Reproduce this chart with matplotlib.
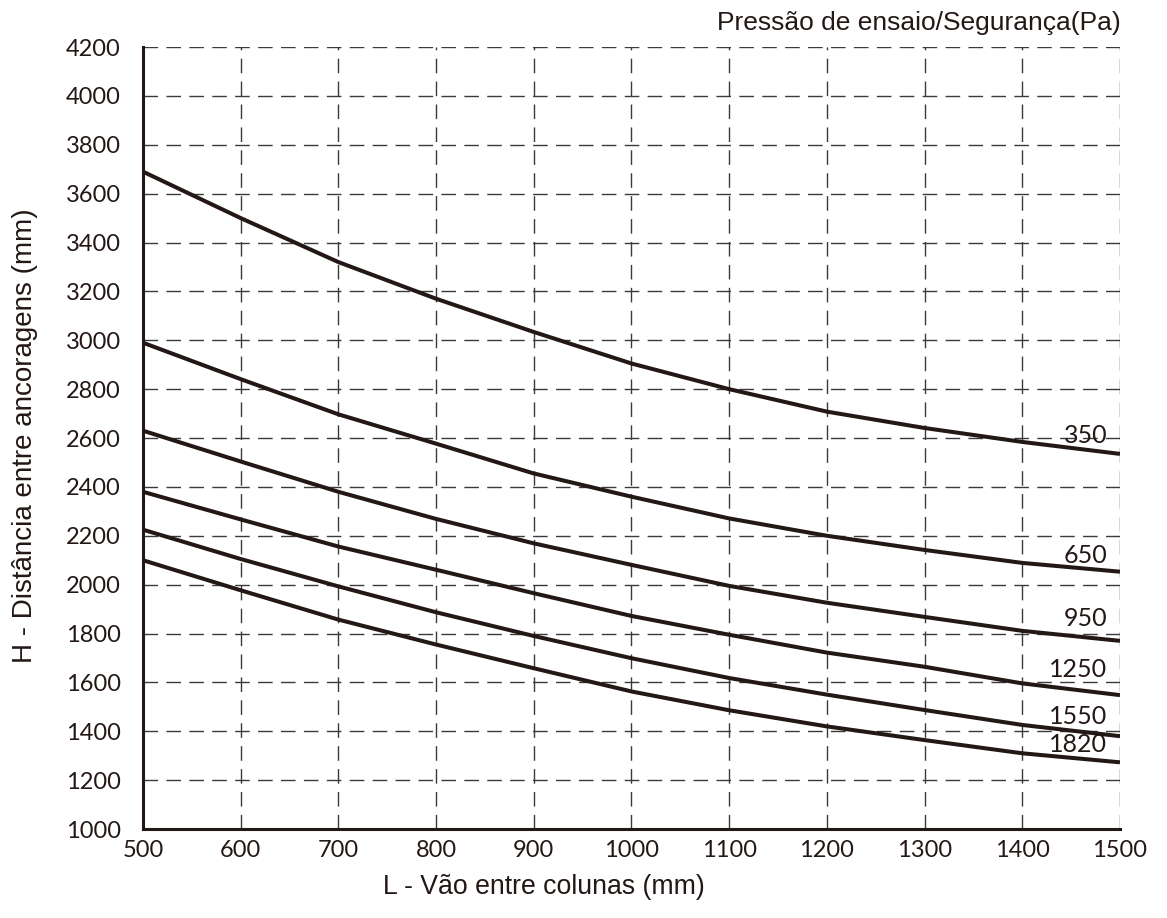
import matplotlib

matplotlib.use('agg')
import matplotlib.pyplot as plt

# span between columns (mm)
vao = [500, 600, 700, 800, 900, 1000, 1100, 1200, 1300, 1400, 1500]

# anchor distance (mm) per test pressure (Pa)
h_350 = [3690, 3500, 3320, 3170, 3034, 2905, 2800, 2708, 2641, 2584, 2535]
h_650 = [2990, 2841, 2697, 2577, 2455, 2360, 2271, 2200, 2142, 2089, 2053]
h_950 = [2630, 2504, 2380, 2269, 2169, 2081, 1995, 1926, 1868, 1811, 1770]
h_1250 = [2380, 2267, 2156, 2061, 1965, 1872, 1795, 1722, 1664, 1596, 1548]
h_1550 = [2225, 2105, 1993, 1887, 1790, 1699, 1618, 1550, 1487, 1426, 1380]
h_1820 = [2100, 1977, 1857, 1755, 1658, 1563, 1486, 1420, 1364, 1310, 1273]

pressoes = ['350', '650', '950', '1250', '1550', '1820']
curvas = [h_350, h_650, h_950, h_1250, h_1550, h_1820]
# label heights next to the right end of each curve
rotulo_y = [2612, 2121, 1862, 1653, 1462, 1344]

x_ticks = list(range(500, 1501, 100))
y_ticks = list(range(1000, 4201, 200))

ink = '#231815'
num_font = 'Lato'
txt_font = 'Liberation Sans'

fig = plt.figure(figsize=(11.67, 9.18), dpi=100)
ax = fig.add_axes([0.1225, 0.0969, 0.8372, 0.8519])

for h in curvas:
  ax.plot(vao, h, color=ink, lw=2.9, solid_capstyle='butt',
          solid_joinstyle='round', zorder=3)

for lab, yy in zip(pressoes, rotulo_y):
  ax.text(1487, yy, lab, ha='right', va='center', fontsize=18,
          family=num_font, color=ink, zorder=4)

ax.set_xlim(500, 1500)
ax.set_ylim(1000, 4200)
ax.set_xticks(x_ticks)
ax.set_yticks(y_ticks)
ax.tick_params(length=0, labelsize=17, colors=ink)
ax.tick_params(axis='x', pad=8)
ax.tick_params(axis='y', pad=16)
for lbl in ax.get_xticklabels() + ax.get_yticklabels():
  lbl.set_family(num_font)

ax.grid(True, color='#3a3a3a', lw=1.0, linestyle=(0, (10.5, 6)), zorder=1)
ax.set_axisbelow(True)

ax.spines['top'].set_visible(False)
ax.spines['right'].set_visible(False)
for s in ['left', 'bottom']:
  ax.spines[s].set_linewidth(2.2)
  ax.spines[s].set_color(ink)
  ax.spines[s].set_zorder(5)

fig.text(0.960, 0.975, 'Pressão de ensaio/Segurança(Pa)', ha='right',
         va='center', fontsize=19, family=txt_font, color=ink)
fig.text(25 / 1167, 0.525, 'H - Distância entre ancoragens (mm)',
         rotation=90, ha='center', va='center', fontsize=20,
         family=txt_font, color=ink)
fig.text(544 / 1167, 0.034, 'L - Vão entre colunas (mm)', ha='center',
         va='center', fontsize=19.2, family=txt_font, color=ink)

fig.savefig('out.png', dpi=100)
